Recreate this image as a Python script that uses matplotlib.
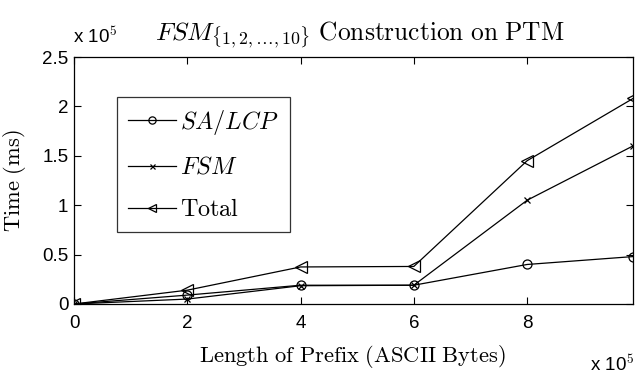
import matplotlib
matplotlib.use("Agg")
import matplotlib.pyplot as plt
from matplotlib import font_manager

plt.rcParams['mathtext.fontset'] = 'cm'

x_vals = [0, 2e5, 4e5, 6e5, 8e5, 9.87e5]
sa_lcp = [0, 0.09e5, 0.19e5, 0.19e5, 0.40e5, 0.48e5]
fsm = [0, 0.05e5, 0.185e5, 0.19e5, 1.05e5, 1.60e5]
total = [0, 0.14e5, 0.375e5, 0.38e5, 1.45e5, 2.08e5]

x_ticks = [0, 2e5, 4e5, 6e5, 8e5]
x_tick_labels = ['0', '2', '4', '6', '8']
y_ticks = [0, 0.5e5, 1e5, 1.5e5, 2e5, 2.5e5]
y_tick_labels = ['0', '0.5', '1', '1.5', '2', '2.5']

try:
    font_manager.findfont('Liberation Sans Narrow', fallback_to_default=False)
    tick_family = ['Liberation Sans Narrow', 'DejaVu Sans']
    tick_size = 16
except Exception:
    tick_family = ['Liberation Sans', 'DejaVu Sans']
    tick_size = 13.5

W, H = 636, 374
fig = plt.figure(figsize=(W / 100, H / 100), dpi=100)
ax = fig.add_axes([74 / W, 1 - 304 / H, (633 - 74) / W, (304 - 57) / H])

lw = 0.9
ax.plot(x_vals, sa_lcp, '-o', color='black', lw=lw, mfc='none', mec='black', ms=6.5, mew=0.9, label=r'$SA/LCP$')
ax.plot(x_vals, fsm, '-x', color='black', lw=lw, ms=4.5, mew=0.9, label=r'$FSM$')
ax.plot(x_vals, total, '-<', color='black', lw=lw, mfc='none', mec='black', ms=8, mew=0.9, label=r'$\mathrm{Total}$')

ax.set_xlim(0, x_vals[-1])
ax.set_ylim(0, 2.5e5)
tick_font = dict(family=tick_family, size=tick_size)
ax.set_xticks(x_ticks)
ax.set_xticklabels(x_tick_labels, **tick_font)
ax.set_yticks(y_ticks)
ax.set_yticklabels(y_tick_labels, **tick_font)
ax.tick_params(direction='in', top=True, right=True, length=5, width=0.8)
ax.tick_params(axis='x', pad=8)
ax.tick_params(axis='y', pad=4)
for s in ax.spines.values():
    s.set_linewidth(0.9)

fig.text(360 / W, 1 - 40 / H, r'$FSM_{\{1,2,\ldots,10\}}\ \mathrm{Construction\ on\ PTM}$',
         fontsize=18.3, ha='center', va='baseline')
fig.text(352 / W, 1 - 362 / H, r'$\mathrm{Length\ of\ Prefix\ (ASCII\ Bytes)}$',
         fontsize=16.2, ha='center', va='baseline')
ax.set_ylabel(r'$\mathrm{Time\ (ms)}$', fontsize=16.2, labelpad=10)

fig.text(73 / W, 1 - 43 / H, r'x 10$^5$', ha='left', va='baseline', family=tick_family, size=tick_size)
fig.text(634 / W, 1 - 371 / H, r'x 10$^5$', ha='right', va='baseline', family=tick_family, size=tick_size)

leg = ax.legend(loc='upper left', bbox_to_anchor=((117 - 74) / 559, (304 - 97) / 247), fontsize=17.4,
                frameon=True, fancybox=False, edgecolor='black', handlelength=2.0, handletextpad=0.15,
                labelspacing=0.75, borderpad=0.45, borderaxespad=0, markerscale=0.8)
leg.get_frame().set_linewidth(0.9)

fig.savefig('out.png', dpi=100)
